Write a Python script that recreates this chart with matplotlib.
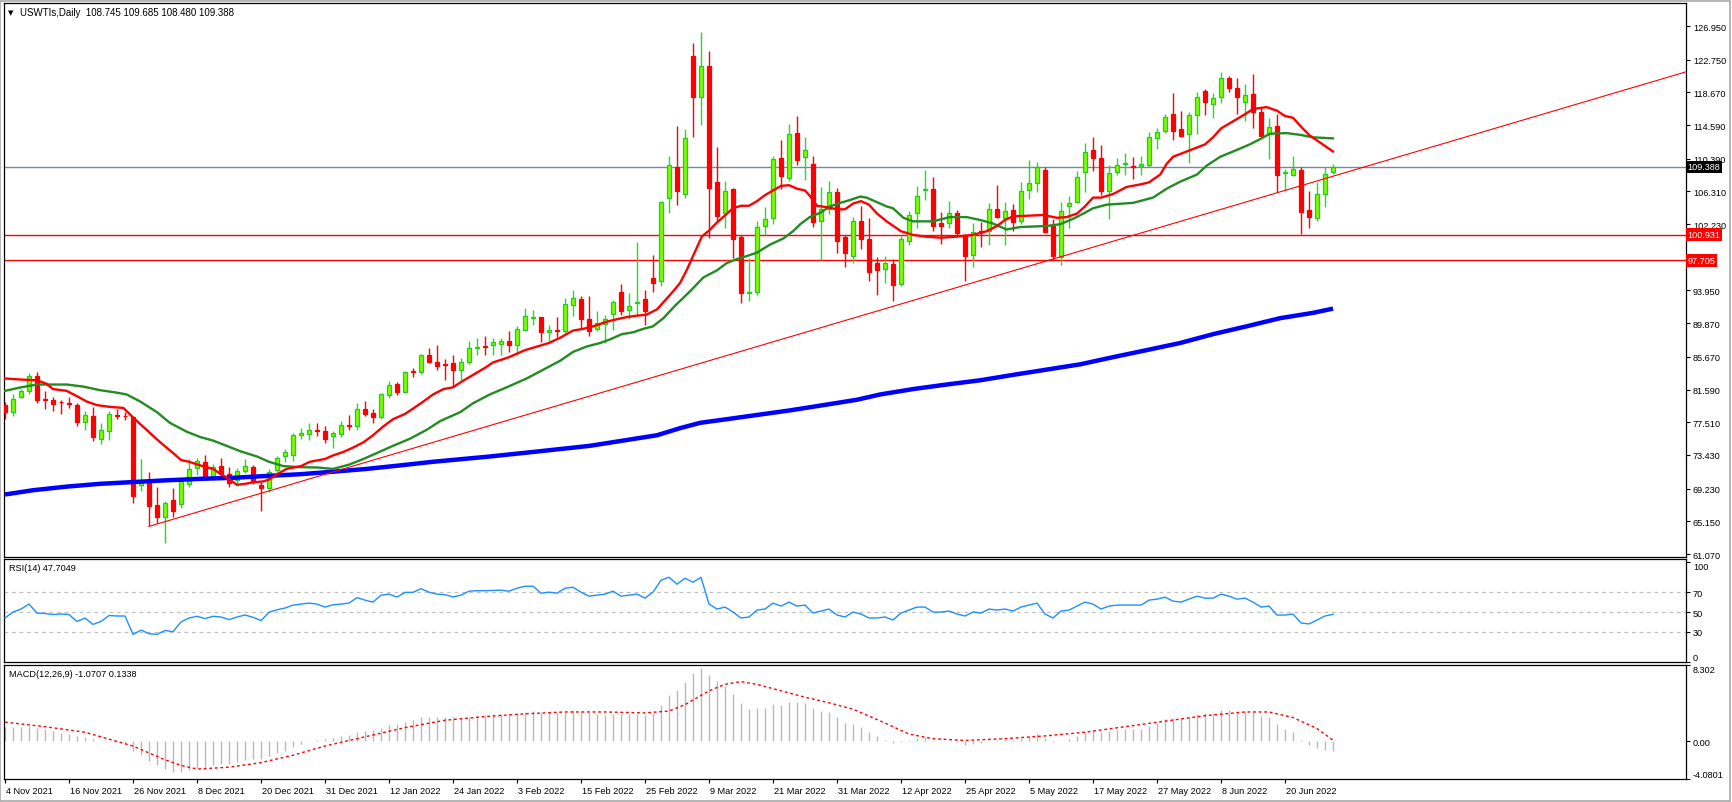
import numpy as np
import matplotlib
matplotlib.use("Agg")
import matplotlib.pyplot as plt
from matplotlib.transforms import blended_transform_factory, ScaledTranslation
from matplotlib.patches import Rectangle

# daily candles, 4 Nov 2021 .. 28 Jun 2022 (bar index 0..166)
opens = [79.65, 78.77, 80.63, 81.43, 83.33, 80.41, 80.23, 80.10, 79.90, 79.65,
         77.53, 78.24, 75.36, 76.47, 78.42, 78.35, 78.11, 69.70, 70.14, 67.18,
         65.71, 67.80, 67.27, 69.83, 71.78, 72.58, 70.80, 72.04, 71.03, 70.36,
         71.47, 71.91, 69.70, 69.26, 71.60, 73.24, 73.46, 75.94, 76.03, 76.50,
         76.47, 75.76, 76.03, 77.20, 77.00, 79.21, 78.68, 78.11, 80.89, 82.31,
         81.34, 83.90, 83.73, 85.85, 84.97, 84.80, 84.88, 84.00, 84.97, 86.75,
         87.00, 87.09, 87.27, 87.62, 87.09, 89.04, 90.55, 90.59, 88.73, 89.04,
         88.95, 92.14, 92.93, 90.41, 89.17, 89.83, 91.07, 93.82, 91.51, 92.35,
         92.93, 95.50, 95.14, 105.54, 109.39, 105.98, 123.15, 118.06, 121.91, 107.53,
         103.64, 106.56, 100.67, 93.60, 93.82, 102.00, 102.98, 110.54, 107.98, 113.64,
         110.63, 109.75, 102.58, 104.08, 106.29, 100.67, 98.24, 102.66, 100.36, 97.36,
         96.60, 97.27, 94.79, 100.14, 103.64, 106.50, 106.65, 102.31, 102.31, 103.64,
         100.89, 98.33, 101.35, 101.34, 104.13, 103.02, 103.99, 102.58, 106.43, 107.40,
         108.99, 102.00, 98.15, 104.44, 104.97, 108.77, 111.43, 110.50, 106.34, 108.77,
         109.70, 109.50, 109.43, 109.61, 112.97, 113.82, 115.94, 114.08, 113.42, 115.81,
         118.90, 117.27, 118.06, 120.45, 119.26, 117.49, 118.46, 116.16, 113.51, 114.48,
         108.60, 108.42, 108.99, 103.99, 103.02, 105.98, 108.745]
highs = [80.10, 80.98, 81.65, 83.64, 83.77, 81.43, 80.63, 80.32, 80.63, 79.88,
         78.86, 79.43, 77.44, 78.86, 79.12, 78.77, 78.33, 72.93, 71.25, 69.48,
         67.71, 69.26, 70.36, 72.93, 73.02, 73.37, 72.35, 73.11, 71.91, 71.78,
         72.93, 72.22, 70.01, 71.69, 73.24, 74.12, 76.12, 76.78, 77.44, 77.44,
         77.09, 76.47, 77.66, 78.42, 79.88, 80.19, 79.21, 81.20, 82.66, 82.53,
         83.86, 84.30, 86.07, 86.82, 87.09, 85.41, 85.94, 85.50, 87.62, 88.06,
         88.28, 88.06, 88.06, 88.86, 89.48, 91.82, 91.51, 90.59, 89.61, 90.59,
         93.02, 94.04, 93.28, 93.28, 91.38, 90.94, 92.71, 94.70, 93.59, 100.01,
         94.04, 98.33, 105.10, 110.76, 114.52, 114.04, 124.88, 126.25, 123.77, 111.82,
         107.67, 106.74, 100.89, 98.02, 102.66, 104.35, 110.72, 112.75, 114.74, 115.72,
         113.15, 110.76, 106.87, 107.62, 106.74, 100.89, 103.11, 104.52, 103.02, 98.15,
         98.24, 97.88, 100.89, 103.90, 107.00, 108.99, 108.11, 103.77, 105.10, 103.99,
         100.98, 102.31, 102.44, 104.88, 107.09, 105.01, 104.79, 107.53, 110.28, 109.97,
         109.39, 102.89, 104.97, 105.76, 108.86, 112.40, 113.06, 112.05, 109.66, 110.54,
         111.16, 110.63, 110.76, 113.73, 114.17, 115.94, 118.60, 116.38, 116.16, 118.68,
         119.04, 118.60, 121.16, 120.72, 120.45, 119.70, 120.94, 116.83, 115.50, 116.03,
         109.08, 110.72, 109.39, 106.34, 107.53, 109.30, 109.685]
lows = [77.89, 78.33, 80.54, 80.98, 79.88, 79.21, 78.86, 78.55, 79.30, 77.00,
        76.56, 75.23, 74.79, 75.32, 77.89, 77.80, 67.48, 68.94, 64.52, 64.96,
        62.49, 65.71, 66.82, 69.48, 70.98, 70.36, 70.36, 70.71, 69.39, 69.70,
        71.16, 69.83, 66.38, 68.81, 71.25, 72.58, 72.66, 75.45, 75.32, 75.76,
        74.88, 74.26, 75.67, 76.56, 76.56, 78.24, 77.44, 77.89, 80.54, 80.89,
        81.20, 83.11, 83.55, 84.88, 84.08, 82.75, 82.09, 82.84, 84.74, 85.85,
        85.85, 85.85, 85.85, 86.29, 85.94, 88.86, 89.61, 87.53, 87.62, 88.15,
        88.59, 90.72, 89.30, 88.28, 88.86, 87.40, 89.04, 90.94, 90.37, 90.94,
        89.61, 93.73, 94.48, 103.64, 104.57, 105.45, 113.15, 114.61, 100.54, 102.44,
        101.78, 98.02, 92.40, 92.58, 93.37, 100.89, 102.22, 106.65, 107.67, 109.66,
        107.76, 101.91, 97.71, 103.55, 98.68, 96.82, 97.36, 99.13, 95.14, 93.37,
        94.92, 92.58, 94.48, 99.57, 101.78, 105.23, 101.42, 99.79, 101.78, 100.89,
        95.14, 96.82, 99.35, 99.57, 103.02, 99.57, 101.34, 102.22, 105.32, 106.21,
        101.11, 97.80, 97.13, 101.78, 104.88, 106.21, 108.86, 105.85, 102.89, 108.33,
        108.42, 107.89, 108.33, 109.30, 111.60, 113.64, 112.75, 113.06, 109.83, 113.51,
        115.85, 115.50, 117.36, 118.68, 116.03, 115.06, 114.17, 113.06, 110.32, 106.21,
        106.43, 108.20, 100.98, 101.78, 102.66, 104.35, 108.48]
closes = [78.77, 80.45, 81.43, 83.33, 80.32, 80.32, 79.74, 80.00, 79.80, 77.53,
          78.42, 75.67, 76.56, 78.55, 78.24, 78.25, 68.37, 70.14, 67.04, 65.71,
          67.49, 66.38, 70.14, 71.69, 72.66, 70.58, 71.91, 71.03, 69.92, 71.47,
          72.00, 70.14, 69.34, 71.25, 73.02, 73.81, 75.89, 76.12, 76.56, 76.40,
          75.45, 76.12, 77.22, 77.10, 79.21, 78.55, 78.11, 80.98, 82.22, 81.34,
          83.73, 83.80, 85.94, 84.97, 84.52, 84.70, 84.00, 84.97, 86.82, 86.85,
          86.90, 87.49, 87.62, 87.18, 89.17, 90.72, 90.65, 88.73, 89.04, 88.86,
          92.27, 93.02, 90.37, 88.95, 89.92, 90.41, 92.49, 91.38, 92.04, 92.49,
          91.38, 94.92, 104.97, 109.66, 106.34, 112.97, 118.06, 121.91, 106.74, 103.20,
          106.34, 100.32, 93.59, 93.75, 101.87, 102.89, 110.41, 108.20, 113.51, 110.19,
          111.52, 102.44, 104.08, 106.29, 100.10, 98.59, 102.58, 100.36, 96.25, 96.47,
          97.36, 94.61, 100.32, 103.42, 105.76, 106.65, 102.00, 102.00, 103.64, 101.11,
          98.24, 101.20, 101.20, 104.08, 103.11, 103.90, 102.44, 106.34, 107.40, 109.30,
          101.20, 98.24, 103.86, 104.88, 108.11, 111.29, 110.50, 106.34, 108.55, 109.61,
          109.85, 109.35, 109.75, 113.06, 113.73, 115.58, 113.82, 113.20, 115.81, 118.15,
          117.49, 117.93, 120.45, 119.26, 118.06, 118.37, 116.25, 113.28, 114.39, 108.42,
          108.75, 109.08, 103.77, 103.11, 105.98, 108.51, 109.388]

# moving averages (bar index, price)
ma_red_bar = [0, 2, 4, 5.2, 6, 7.7, 9, 10.2, 11.5, 13.1, 14.8, 16, 17.7, 19.4, 21, 22, 23, 24.4, 26, 27,
              28.1, 29, 30, 31, 32.3, 33, 34, 35.2, 37, 38.1, 40, 41, 42.3, 43.5, 44.8, 46, 47.3, 48.5, 50, 51,
              52.3, 53.5, 54.8, 56, 57, 58.5, 60, 61, 63, 65, 66.5, 68, 69.4, 71, 72.3, 73.5, 75.2, 76.5, 77.7, 79,
              80.2, 81.5, 82.3, 83.5, 84.4, 85.2, 86.2, 87.1, 88, 89, 90, 91, 92, 93, 94, 95, 96, 97, 98, 99,
              100, 100.6, 101.5, 102.7, 104, 105, 106, 107, 108, 109, 110.2, 112, 113.5, 115, 117, 119, 121, 122.7, 124, 125,
              126, 127.7, 129.8, 131.5, 132.7, 134, 135, 136, 137, 138.5, 140.2, 141.9, 143, 144.4, 145.2, 146, 147.7, 150, 151, 152,
              153.5, 155, 156, 157.7, 159, 160, 161, 162, 163.1, 164.4, 166]
ma_red_val = [82.97, 82.84, 82.75, 82.31, 81.65, 81.43, 80.76, 80.10, 79.65, 79.43, 79.30, 78.11, 76.56, 75.01, 73.68, 72.80, 72.58, 72.13, 71.69, 71.03,
              70.36, 69.70, 69.83, 70.01, 70.14, 70.36, 71.03, 71.69, 72.04, 72.58, 72.93, 73.37, 73.81, 74.35, 75.01, 75.89, 77.00, 77.89, 78.55, 79.21,
              80.10, 80.98, 81.65, 81.87, 82.53, 83.42, 84.30, 84.97, 85.63, 86.51, 86.96, 87.40, 88.06, 88.95, 89.17, 89.48, 90.05, 90.37, 90.63, 90.81,
              90.94, 91.60, 92.49, 93.82, 94.92, 96.47, 98.68, 100.67, 101.42, 102.44, 103.33, 104.21, 104.52, 104.52, 105.10, 105.85, 106.43, 107.00, 107.09, 106.65,
              106.43, 105.76, 104.52, 104.35, 104.08, 104.08, 104.79, 105.10, 104.66, 103.55, 102.58, 101.34, 100.89, 100.67, 100.54, 100.67, 100.89, 101.34, 102.00, 102.75,
              103.20, 103.28, 103.37, 103.02, 103.11, 103.55, 104.44, 105.54, 105.54, 105.98, 106.87, 107.18, 107.44, 108.42, 109.74, 110.63, 111.29, 112.18, 113.06, 114.17,
              115.06, 115.94, 116.60, 116.83, 116.38, 115.72, 115.50, 114.39, 113.28, 112.40, 111.29]

ma_green_bar = [0, 2, 4, 7.7, 9.8, 11.9, 14, 15.2, 16.9, 19, 20.6, 22.7, 24.4, 26, 27.7, 29.4, 31.5, 33, 34.8, 36.9,
                39, 41, 43, 44.8, 46.5, 48.5, 50.6, 52.7, 54.4, 56.9, 58.5, 60.6, 62.7, 65.2, 67.3, 69.4, 71, 72.7, 74.4, 75.6,
                77.1, 78.5, 79.8, 81, 82.3, 83.75, 85.6, 87.3, 89, 90.2, 91.5, 92.7, 94, 95.6, 97.3, 98.5, 99.4, 100.6, 101.9, 103.1,
                104.4, 105.6, 106.9, 107.7, 109, 110.2, 111, 112.3, 113.5, 116, 118.1, 120.2, 121.9, 123.5, 125.2, 126.9, 130.2, 131.9, 133.5, 134.8,
                136, 137.7, 141, 143.5, 145.2, 146.9, 149, 150.2, 151.9, 153.5, 155.6, 156.9, 158.1, 160.2, 161.9, 163.5, 166]
ma_green_val = [81.43, 81.87, 82.22, 82.22, 81.96, 81.51, 81.20, 80.98, 80.10, 78.77, 77.44, 76.34, 75.67, 75.23, 74.57, 73.90, 73.24, 72.58, 72.04, 71.91,
                71.87, 71.69, 72.22, 72.93, 73.68, 74.57, 75.45, 76.56, 77.66, 78.77, 79.88, 80.98, 81.87, 82.97, 84.08, 85.19, 86.29, 86.96, 87.40, 87.84,
                88.50, 88.73, 89.17, 89.48, 90.50, 92.04, 93.82, 95.58, 96.47, 97.36, 97.88, 98.24, 98.68, 99.66, 100.45, 101.34, 102.22, 103.11, 103.64, 104.44,
                104.88, 105.23, 105.67, 105.54, 104.97, 104.44, 104.21, 103.02, 102.58, 102.58, 103.11, 103.11, 102.75, 102.31, 101.56, 101.87, 102.00, 102.22, 102.89, 103.55,
                104.21, 104.66, 104.88, 105.54, 106.65, 107.53, 108.42, 109.52, 110.63, 111.29, 112.18, 112.84, 113.51, 113.59, 113.37, 113.06, 112.93]

ma_blue_bar = [0, 3.5, 7.7, 11.9, 16, 20.2, 24.4, 28.5, 32.7, 36.9, 41, 45.2, 49.4, 53.5, 60.6, 66.9, 73.1, 77.3, 81.5, 84.4,
               86.9, 90.2, 94, 98.1, 102.3, 106.5, 109.4, 113.5, 117.7, 121.9, 126, 130.2, 134.4, 138.5, 142.7, 146.9, 151, 155.2, 159.4, 163.5, 166]
ma_blue_val = [68.50, 69.03, 69.48, 69.83, 70.05, 70.27, 70.45, 70.58, 70.81, 71.03, 71.34, 71.69, 72.13, 72.58, 73.24, 73.90, 74.57, 75.23, 75.89, 76.78,
               77.44, 77.89, 78.42, 78.99, 79.65, 80.32, 80.98, 81.65, 82.22, 82.75, 83.42, 84.08, 84.74, 85.63, 86.51, 87.40, 88.50, 89.48, 90.50, 91.16, 91.69]

# trend line anchors (bar, price) and horizontal levels
trend_a = (18, 64.52)
trend_b = (109.4, 91.50)
level_lines = [100.931, 97.705]
last_price = 109.388

rsi = [44, 50, 53, 58, 49, 48.5, 47.5, 48, 47.5, 40.5, 44, 37.5, 40.5, 46.5, 46, 46, 27.5, 31.8, 28.2, 27.5,
       31.5, 30.2, 40, 44, 45.7, 43.4, 45.7, 45, 42.4, 45, 47, 44.7, 41.4, 49.7, 52.3, 54, 57, 58, 59, 58,
       55, 57.3, 58, 59, 64.5, 62, 60, 67, 68, 65, 69.8, 69.8, 73.5, 70, 68, 67.5, 65.2, 67, 71, 71.5,
       71.5, 71.8, 72, 71, 74, 76, 76, 69, 70, 69, 74, 75, 70, 66, 67, 68, 71, 66, 67, 68,
       64, 70, 82, 85, 78, 84, 80, 85, 58, 53, 55, 50, 44, 45, 52, 53, 59, 56, 60, 56,
       57, 49, 51, 53, 47, 45, 50, 48, 44, 44, 45, 42, 49, 52, 55, 55, 50, 50, 51, 48,
       46, 50, 49, 53, 52, 53, 51, 55, 57, 59, 48, 44, 51, 52, 56, 60, 58, 53, 56, 57,
       57, 57, 57, 62, 63, 65, 61, 60, 63, 66, 64, 64, 68, 66, 63, 64, 60, 55, 56, 47,
       47, 48, 39, 38, 42, 46, 47.7049]

macd_hist = [1.6, 1.6, 1.6, 1.7, 1.5, 1.3, 1.1, 0.9, 0.8, 0.6,
             0.5, 0.3, 0.1, 0.0, -0.1, -0.2, -1.0, -1.5, -2.1, -2.6,
             -3.0, -3.3, -3.3, -3.1, -2.9, -2.8, -2.6, -2.5, -2.4, -2.2,
             -2.0, -1.9, -1.9, -1.6, -1.3, -1.0, -0.6, -0.3, 0.0, 0.2,
             0.3, 0.4, 0.6, 0.7, 1.0, 1.1, 1.2, 1.5, 1.8, 1.9,
             2.1, 2.3, 2.6, 2.7, 2.7, 2.7, 2.6, 2.6, 2.7, 2.8,
             2.9, 3.0, 3.0, 3.0, 3.1, 3.2, 3.3, 3.2, 3.2, 3.1,
             3.2, 3.4, 3.3, 3.1, 3.0, 2.9, 3.0, 3.0, 3.0, 3.0,
             2.9, 3.1, 4.0, 5.0, 5.6, 6.5, 7.4, 8.0, 7.2, 6.6,
             6.0, 5.2, 4.2, 3.5, 3.6, 3.6, 4.1, 4.0, 4.3, 4.3,
             4.2, 3.6, 3.3, 3.2, 2.6, 2.0, 1.9, 1.6, 1.0, 0.6,
             0.2, -0.2, -0.1, 0.2, 0.4, 0.5, 0.2, 0.1, 0.1, -0.1,
             -0.4, -0.3, -0.2, 0.1, 0.2, 0.3, 0.2, 0.4, 0.6, 0.9,
             0.4, -0.1, 0.1, 0.3, 0.6, 1.0, 1.2, 1.0, 1.1, 1.2,
             1.3, 1.3, 1.3, 1.7, 2.0, 2.4, 2.5, 2.5, 2.7, 3.0,
             3.1, 3.1, 3.4, 3.4, 3.3, 3.3, 3.2, 2.8, 2.6, 1.9,
             1.4, 1.0, 0.2, -0.4, -0.7, -0.9, -1.0707]
sig_bar = [0, 5, 10, 16, 20, 22, 24, 28, 32, 36, 40, 45, 50, 55, 60, 65, 70, 75, 80, 83, 85, 88,
           90, 92, 94, 97, 100, 103, 106, 110, 113, 116, 120, 125, 130, 135, 140, 145, 150, 155, 158, 161, 164, 166]
sig_val = [2.1, 1.6, 1.0, -0.5, -2.0, -2.6, -3.0, -2.8, -2.3, -1.5, -0.5, 0.5, 1.5, 2.3, 2.7, 3.0, 3.2, 3.2, 3.1, 3.3, 4.0, 5.5,
           6.2, 6.5, 6.2, 5.5, 4.8, 4.2, 3.5, 2.0, 0.8, 0.3, 0.1, 0.3, 0.6, 1.0, 1.6, 2.2, 2.8, 3.2, 3.2, 2.6, 1.4, 0.1338]

date_ticks = list(range(0, 161, 8))
date_labels = ["4 Nov 2021", "16 Nov 2021", "26 Nov 2021", "8 Dec 2021", "20 Dec 2021", "31 Dec 2021",
               "12 Jan 2022", "24 Jan 2022", "3 Feb 2022", "15 Feb 2022", "25 Feb 2022", "9 Mar 2022",
               "21 Mar 2022", "31 Mar 2022", "12 Apr 2022", "25 Apr 2022", "5 May 2022", "17 May 2022",
               "27 May 2022", "8 Jun 2022", "20 Jun 2022"]
price_ticks = [126.95, 122.75, 118.67, 114.59, 110.39, 106.31, 102.23, 93.95, 89.87, 85.67,
               81.59, 77.51, 73.43, 69.23, 65.15, 61.07]

plt.rcParams['font.family'] = ['Liberation Sans', 'DejaVu Sans']
FS = 6.6
W, H = 1733, 803
fig = plt.figure(figsize=(W / 100, H / 100), dpi=100)


def rect(x0, y0, x1, y1):
    return [x0 / W, 1 - y1 / H, (x1 - x0) / W, (y1 - y0) / H]


ax = fig.add_axes(rect(4, 4, 1686, 558))
ax_rsi = fig.add_axes(rect(4, 560, 1686, 663), sharex=ax)
ax_macd = fig.add_axes(rect(4, 666, 1686, 780), sharex=ax)

# outer frame
fig.patches.append(Rectangle((0.5 / W, 1.5 / H), 1730 / W, 800 / H, transform=fig.transFigure,
                             fill=False, ec='#A8A8A8', lw=1.2))

o = np.array(opens); h = np.array(highs); l = np.array(lows); c = np.array(closes)
idx = np.arange(len(c))
up = c >= o
dn = ~up

# candles
ax.vlines(idx[up], l[up], h[up], color='#22DD22', lw=1, zorder=3)
ax.vlines(idx[dn], l[dn], h[dn], color='#FF0000', lw=1, zorder=3)
ax.bar(idx[up], np.maximum(c - o, 0.04)[up], bottom=o[up], width=0.62,
       color='#7CFC00', edgecolor='#22CC22', lw=0.9, zorder=4)
ax.bar(idx[dn], np.maximum(o - c, 0.04)[dn], bottom=c[dn], width=0.62,
       color='#FF0000', edgecolor='#FF0000', lw=0.9, zorder=4)

# moving averages
ax.plot(ma_blue_bar, ma_blue_val, color='#0000FF', lw=3.2, zorder=5, solid_capstyle='butt')
ax.plot(ma_green_bar, ma_green_val, color='#228B22', lw=1.7, zorder=5)
ax.plot(ma_red_bar, ma_red_val, color='#FF0000', lw=1.7, zorder=5)

# trend line (ray from its first anchor)
x_end = 210.2
slope = (trend_b[1] - trend_a[1]) / (trend_b[0] - trend_a[0])
ax.plot([trend_a[0], x_end], [trend_a[1], trend_a[1] + slope * (x_end - trend_a[0])],
        color='#FF0000', lw=0.8, zorder=6)

for lv in level_lines:
    ax.axhline(lv, color='#FF0000', lw=1, zorder=2)
ax.axhline(last_price, color='#778899', lw=1, zorder=2)

ax.set_xlim(-0.125, 210.125)
ax.set_ylim(60.70, 129.82)

# right price scale
for a in (ax, ax_rsi, ax_macd):
    a.yaxis.tick_right()
    a.tick_params(axis='y', length=3, width=0.8, pad=2, labelsize=FS, colors='black')
    for s in a.spines.values():
        s.set_linewidth(0.9)
        s.set_color('black')
ax.set_yticks(price_ticks)
ax.set_yticklabels([f"{v:.3f}" for v in price_ticks])

tr = blended_transform_factory(ax.transAxes, ax.transData)
ax.text(1.0009, last_price, f"{last_price:.3f}", transform=tr, va='center', ha='left', fontsize=FS,
        color='white', zorder=20, clip_on=False,
        bbox=dict(boxstyle='square,pad=0.18', fc='black', ec='none'))
for lv in level_lines:
    ax.text(1.0009, lv, f"{lv:.3f}", transform=tr, va='center', ha='left', fontsize=FS,
            color='white', zorder=20, clip_on=False,
            bbox=dict(boxstyle='square,pad=0.18', fc='#FF0000', ec='none'))

# header
fig.text(8 / W, 1 - 13 / H, "\u25BC", fontsize=5, va='center', ha='left', family='DejaVu Sans')
fig.text(20 / W, 1 - 13 / H, "USWTIs,Daily  108.745 109.685 108.480 109.388", fontsize=FS + 0.4,
         va='center', ha='left')
ax.plot([1347], [129.45], marker='v', ms=6, color='#8C8C8C', clip_on=False, zorder=10)

# RSI
ax_rsi.plot(idx, rsi, color='#1E90FF', lw=1, zorder=3)
for lv in (70, 50, 30):
    ax_rsi.axhline(lv, color='#C0C0C0', lw=0.9, ls=(0, (3, 3)), zorder=1)
ax_rsi.set_ylim(-0.3, 103.4)
ax_rsi.set_yticks([100, 70, 50, 30, 0])
ax_rsi.set_yticklabels(["100", "70", "50", "30", "0"])
rl = ax_rsi.get_yticklabels()
rl[0].set_va('top')
rl[4].set_va('bottom')
fig.text(9 / W, 1 - 569 / H, "RSI(14) 47.7049", fontsize=FS, va='center', ha='left')

# MACD
ax_macd.vlines(idx, 0, macd_hist, color='#B8B8B8', lw=1, zorder=2)
ax_macd.plot(sig_bar, sig_val, color='#FF0000', lw=1, ls=(0, (2, 2)), zorder=3)
ax_macd.set_ylim(-4.0801, 8.302)
ax_macd.set_yticks([8.302, 0, -4.0801])
ax_macd.set_yticklabels(["8.302", "0.00", "-4.0801"])
ml = ax_macd.get_yticklabels()
ml[0].set_va('top')
ml[2].set_va('bottom')
fig.text(9 / W, 1 - 675 / H, "MACD(12,26,9) -1.0707 0.1338", fontsize=FS, va='center', ha='left')

# date axis
ax_macd.set_xticks(date_ticks)
ax_macd.set_xticklabels(date_labels)
ax_macd.tick_params(axis='x', length=3, width=0.8, pad=2, labelsize=FS, colors='black')
shift = ScaledTranslation(1 / 100, 0, fig.dpi_scale_trans)
for t in ax_macd.get_xticklabels():
    t.set_ha('left')
    t.set_transform(t.get_transform() + shift)
for a in (ax, ax_rsi):
    a.tick_params(axis='x', bottom=False, labelbottom=False)

fig.savefig("out.png", dpi=100, facecolor='white')
